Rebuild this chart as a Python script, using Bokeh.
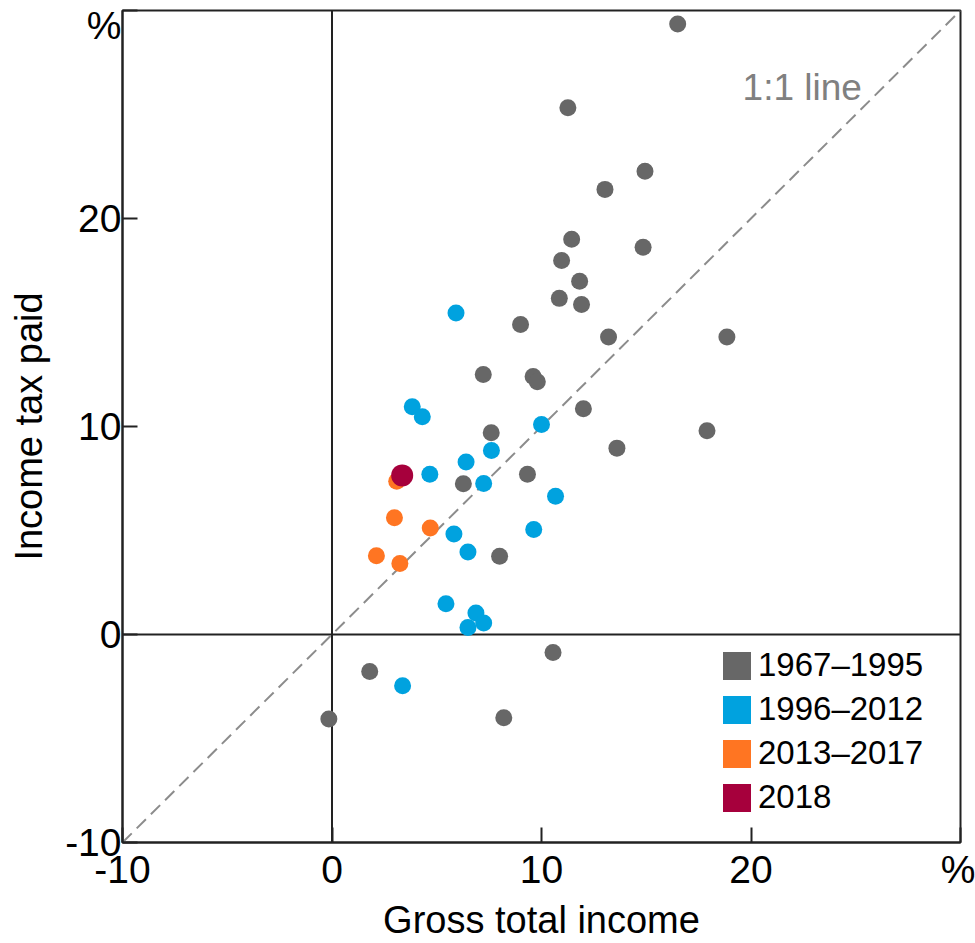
from bokeh.plotting import figure
from bokeh.models import FixedTicker, Span, Label, Legend, LegendItem, Slope
from bokeh.embed import file_html
from bokeh.resources import INLINE

# ---- data (percent changes) ----
x_1967_1995 = [16.5, 11.26, 13.03, 14.94, 11.44, 14.85, 10.96, 11.82, 10.85, 11.91,
               9.0, 13.2, 18.85, 7.22, 9.6, 9.8, 12.0, 7.6, 17.9, 13.6,
               9.33, 6.27, 8.0, 10.55, 1.8, 8.2, -0.15]
y_1967_1995 = [29.35, 25.32, 21.4, 22.27, 19.0, 18.62, 17.98, 16.98, 16.16, 15.86,
               14.9, 14.3, 14.3, 12.5, 12.4, 12.15, 10.85, 9.7, 9.8, 8.96,
               7.7, 7.25, 3.76, -0.87, -1.78, -4.0, -4.06]

x_1996_2012 = [5.92, 3.83, 4.31, 10.0, 7.61, 6.4, 4.67, 7.24, 10.67, 9.63,
               5.82, 6.49, 5.44, 6.87, 7.24, 6.49, 3.37]
y_1996_2012 = [15.46, 10.95, 10.47, 10.1, 8.85, 8.29, 7.7, 7.26, 6.65, 5.05,
               4.83, 3.97, 1.48, 1.03, 0.55, 0.34, -2.46]

x_2013_2017 = [3.09, 2.98, 4.69, 2.12, 3.24]
y_2013_2017 = [7.37, 5.61, 5.12, 3.79, 3.41]

x_2018 = [3.35]
y_2018 = [7.65]

axis_ticks = [-10, 0, 10, 20, 30]
x_tick_labels = ["-10", "0", "10", "20", "%"]
y_tick_labels = ["-10", "0", "10", "20", "\n%"]
series_labels = ["1967\u20131995", "1996\u20132012", "2013\u20132017", "2018"]
series_colors = ["#676767", "#00A2DF", "#FF7522", "#A6003C"]

FONT = "Liberation Sans"
LINE = "#222222"
NAN = float("nan")

p = figure(width=975, height=943, x_range=(-10, 30), y_range=(-10, 30),
           output_backend="svg", toolbar_location=None,
           min_border_left=122, min_border_right=15, min_border_top=10,
           min_border_bottom=101,
           x_axis_label="Gross total income", y_axis_label="Income tax paid")
p.xgrid.visible = False
p.ygrid.visible = False
p.outline_line_color = LINE
p.outline_line_width = 2
p.outline_line_alpha = 1
p.background_fill_color = "white"
p.border_fill_color = "white"

for ax in (p.xaxis[0], p.yaxis[0]):
    ax.ticker = FixedTicker(ticks=axis_ticks)
    ax.major_tick_in = 15
    ax.major_tick_out = 0
    ax.minor_tick_line_color = None
    ax.axis_line_color = LINE
    ax.axis_line_width = 2
    ax.major_tick_line_color = LINE
    ax.major_tick_line_width = 2
    ax.major_label_text_font = FONT
    ax.major_label_text_font_size = "39px"
    ax.major_label_text_color = "black"
    ax.axis_label_text_font = FONT
    ax.axis_label_text_font_size = "38px"
    ax.axis_label_text_font_style = "normal"
    ax.axis_label_text_color = "black"

p.xaxis[0].major_label_overrides = {t: s for t, s in zip(axis_ticks, x_tick_labels)}
p.yaxis[0].major_label_overrides = {t: s for t, s in zip(axis_ticks, y_tick_labels)}
p.yaxis[0].major_label_text_line_height = 0.07
p.xaxis[0].major_label_standoff = 5
p.xaxis[0].axis_label_standoff = 5
p.yaxis[0].major_label_standoff = 1
p.yaxis[0].axis_label_standoff = 12

# zero lines and 1:1 line
p.add_layout(Span(location=0, dimension="height", line_color=LINE, line_width=2, level="underlay"))
p.add_layout(Span(location=0, dimension="width", line_color=LINE, line_width=2, level="underlay"))
p.add_layout(Slope(gradient=1, y_intercept=0, line_color="#8c8c8c", line_width=2,
                   line_dash="13 7", level="underlay"))

# points
p.scatter(x_1967_1995, y_1967_1995, size=17, color=series_colors[0], line_color=None)
p.scatter(x_1996_2012, y_1996_2012, size=17, color=series_colors[1], line_color=None)
p.scatter(x_2013_2017, y_2013_2017, size=17, color=series_colors[2], line_color=None)
p.scatter(x_2018, y_2018, size=22, color=series_colors[3], line_color=None)

# annotation
p.add_layout(Label(x=19.6, y=26.3, text="1:1 line", text_align="left",
                   text_baseline="middle", text_font=FONT,
                   text_font_size="37px", text_color="#808080"))

# legend with square swatches (swatch-only renderers, nothing drawn in the plot)
items = []
for lab, col in zip(series_labels, series_colors):
    r = p.quad(left=[NAN], right=[NAN], top=[NAN], bottom=[NAN],
               fill_color=col, line_color=None)
    items.append(LegendItem(label=lab, renderers=[r]))
legend = Legend(items=items, location=(597, 26), orientation="vertical",
                border_line_color=None, background_fill_alpha=0,
                padding=0, margin=0, spacing=6,
                glyph_width=35, glyph_height=35, label_standoff=4,
                label_text_font=FONT, label_text_font_size="33px",
                label_text_color="black")
p.add_layout(legend)

open("out.html", "w").write(file_html(p, INLINE))
